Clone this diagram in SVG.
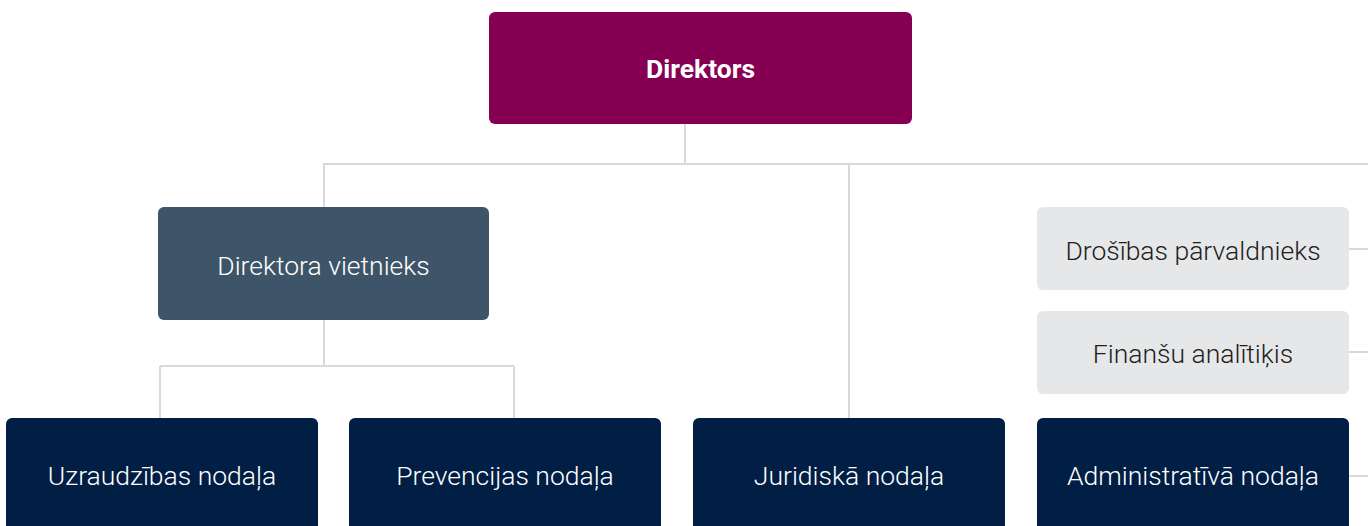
<svg xmlns="http://www.w3.org/2000/svg" width="1368" height="526" viewBox="0 0 1368 526">
<style>
.ln{stroke:#d9d9d9;stroke-width:2;fill:none}
.t{font-family:Roboto,"Liberation Sans",sans-serif;font-size:26.5px;font-weight:300;text-anchor:middle;dominant-baseline:central}
.w{fill:#ffffff}
.d{fill:#1e1e1e}
.navy{fill:#011e45}
</style>
<rect width="1368" height="526" fill="#ffffff"/>
<g id="connectors">
<path class="ln" d="M685 124V164M323 164H1368M324 164V207M849 164V418M324 320V366M160 366H514M160 366V418M514 366V418M1348 249H1368M1348 352H1368M1348 476H1368"/>
</g>
<g id="direktors"><rect x="489" y="12" width="423" height="112" rx="6" fill="#850052"/><text class="t w" x="700.5" y="68" style="font-weight:700">Direktors</text></g>
<g id="vietnieks"><rect x="158" y="207" width="331" height="113" rx="6" fill="#3e5468"/><text class="t w" x="323.5" y="265">Direktora vietnieks</text></g>
<g id="drosibas"><rect x="1037" y="207" width="312" height="83" rx="6" fill="#e6e7e9"/><text class="t d" x="1193" y="250">Drošības pārvaldnieks</text></g>
<g id="finansu"><rect x="1037" y="311" width="312" height="83" rx="6" fill="#e6e7e9"/><text class="t d" x="1193" y="353">Finanšu analītiķis</text></g>
<g id="uzraudzibas"><rect class="navy" x="6" y="418" width="312" height="120" rx="6"/><text class="t w" x="162" y="475">Uzraudzības nodaļa</text></g>
<g id="prevencijas"><rect class="navy" x="349" y="418" width="312" height="120" rx="6"/><text class="t w" x="505" y="475">Prevencijas nodaļa</text></g>
<g id="juridiska"><rect class="navy" x="693" y="418" width="312" height="120" rx="6"/><text class="t w" x="849" y="475">Juridiskā nodaļa</text></g>
<g id="administrativa"><rect class="navy" x="1037" y="418" width="312" height="120" rx="6"/><text class="t w" x="1193" y="475">Administratīvā nodaļa</text></g>
</svg>
